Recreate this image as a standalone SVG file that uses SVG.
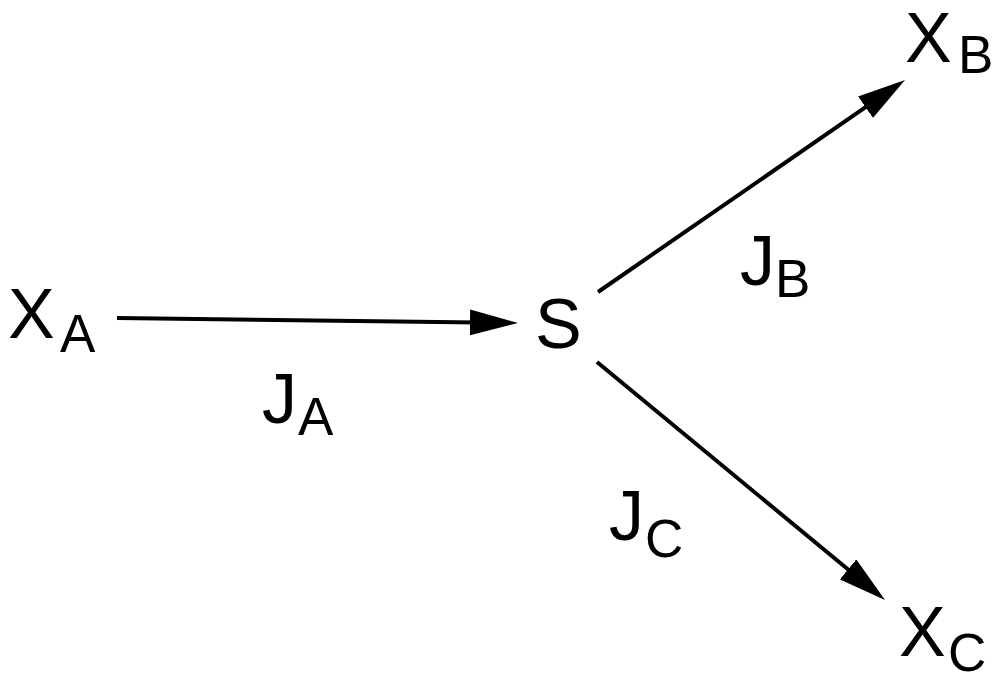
<svg xmlns="http://www.w3.org/2000/svg" width="1001" height="680" viewBox="0 0 1001 680">
<style>
  text { font-family: "Liberation Sans", Arial, sans-serif; fill: #000; }
  .m { font-size: 70px; }
  .s { font-size: 53px; }
  .c { stroke: #000; stroke-width: 4; fill: none; }
</style>
<defs>
  <marker id="ah" markerUnits="userSpaceOnUse" viewBox="0 0 48 26" refX="8" refY="13" markerWidth="48" markerHeight="26" orient="auto">
    <path d="M0,0 L48,13 L0,26 z" fill="#000"/>
  </marker>
</defs>
<rect width="1001" height="680" fill="#fff"/>
<g id="connectors">
  <line class="c" x1="117" y1="318" x2="478" y2="322.5" marker-end="url(#ah)"/>
  <line class="c" x1="598" y1="292" x2="872.1" y2="102.7" marker-end="url(#ah)"/>
  <line class="c" x1="597" y1="362" x2="854.2" y2="574.5" marker-end="url(#ah)"/>
</g>
<g id="node-XA"><text class="m" x="8" y="338">X</text><text class="s" x="60" y="352">A</text></g>
<g id="node-S"><text class="m" x="535" y="348">S</text></g>
<g id="node-XB"><text class="m" x="905" y="62">X</text><text class="s" x="958" y="73">B</text></g>
<g id="node-XC"><text class="m" x="899" y="656">X</text><text class="s" x="948" y="671">C</text></g>
<g id="label-JA"><text class="m" x="262" y="423">J</text><text class="s" x="298" y="435">A</text></g>
<g id="label-JB"><text class="m" x="740" y="285">J</text><text class="s" x="775" y="297">B</text></g>
<g id="label-JC"><text class="m" x="609" y="540">J</text><text class="s" x="645" y="557">C</text></g>
</svg>
